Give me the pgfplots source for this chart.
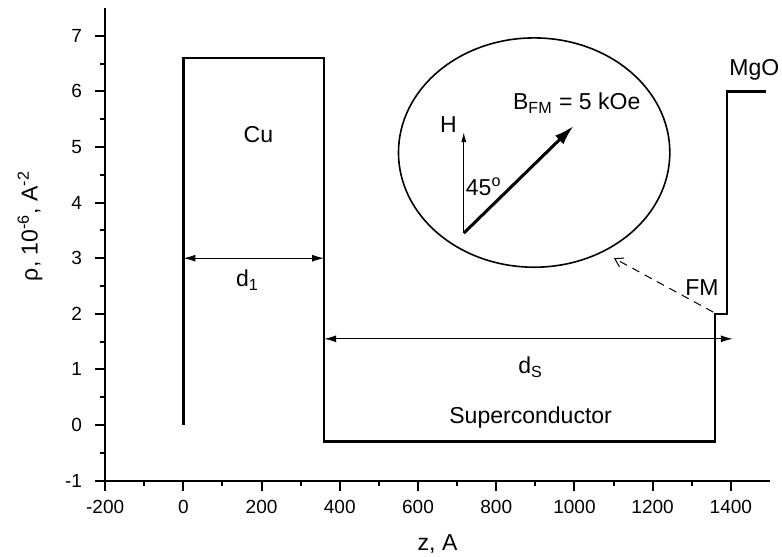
\documentclass[border=0pt]{standalone}
\usepackage{fontspec}
\setmainfont{Liberation Sans}
\usepackage{pgfplots}
\pgfplotsset{compat=1.18}
\usetikzlibrary{arrows.meta}
\begin{document}
\begin{tikzpicture}
\begin{axis}[name=ax, scale only axis, width=332pt, height=236pt,
 xmin=-200, xmax=1500, ymin=-1, ymax=7.5,
 axis lines=left, axis line style={line width=1pt, -},
 xtick={-200,0,...,1400}, ytick={-1,0,...,7},
 minor x tick num=1, minor y tick num=1,
 tick align=outside, major tick length=5pt, minor tick length=2.5pt,
 tick style={line width=1pt, black},
 ticklabel style={font=\fontsize{9.5}{11}\selectfont},
 xticklabel style={yshift=-1.5pt},
 yticklabel style={xshift=-3pt},
 /pgf/number format/assume math mode=true,
 /pgf/number format/1000 sep={},
 xlabel={z, A}, ylabel={ρ, 10\textsuperscript{-6}, A\textsuperscript{-2}},
 label style={font=\fontsize{11.5}{13}\selectfont},
 xlabel style={at={(axis description cs:0.5,-0.1335)}, anchor=center},
 ylabel style={at={(axis description cs:-0.113,0.539)}, anchor=center},
 clip=false,
]
\addplot[line width=1.2pt, black] coordinates {(0,0)(0,6.6)(360,6.6)(360,-0.3)(1360,-0.3)(1360,2)(1390,2)(1390,6)(1490,6)};
\draw[{Latex[length=6pt,width=3.5pt]}-{Latex[length=6pt,width=3.5pt]}, line width=0.6pt] (axis cs:0,3) -- (axis cs:360,3);
\draw[{Latex[length=6pt,width=3.5pt]}-{Latex[length=6pt,width=3.5pt]}, line width=0.6pt] (axis cs:360,1.55) -- (axis cs:1405,1.55);
\draw[dashed, dash pattern=on 4pt off 3pt, -{Straight Barb[length=4pt,width=5pt]}, line width=0.5pt] (axis cs:1355,2.03) -- (axis cs:1101,3.0);
\draw[line width=0.8pt] (axis cs:897,4.90) ellipse [x radius=67.75pt, y radius=57.25pt];
\draw[-{Latex[length=5pt,width=2.5pt]}, line width=0.5pt] (axis cs:717,3.45) -- (axis cs:717,5.27);
\draw[-{Latex[length=10pt,width=6pt]}, line width=1.5pt] (axis cs:717,3.45) -- (axis cs:998,5.38);
\begin{scope}[font=\fontsize{11.5}{13}\selectfont]
\node at (axis cs:192,5.22) {Cu};
\node at (axis cs:164,2.6) {d\textsubscript{1}};
\node at (axis cs:888,1.04) {d\textsubscript{S}};
\node at (axis cs:888,0.14) {Superconductor};
\node at (axis cs:1326,2.48) {FM};
\node[anchor=east, inner sep=0pt] at (axis cs:1525,6.38) {MgO};
\node at (axis cs:678,5.40) {H};
\node at (axis cs:768,4.28) {45\textsuperscript{o}};
\node at (axis cs:1006,5.79) {B\textsubscript{FM} = 5 kOe};
\end{scope}
\end{axis}
\pgfresetboundingbox
\path[use as bounding box] ([xshift=-52.5pt,yshift=-38pt]ax.south west) rectangle ([xshift=6pt,yshift=4pt]ax.north east);
\end{tikzpicture}
\end{document}
